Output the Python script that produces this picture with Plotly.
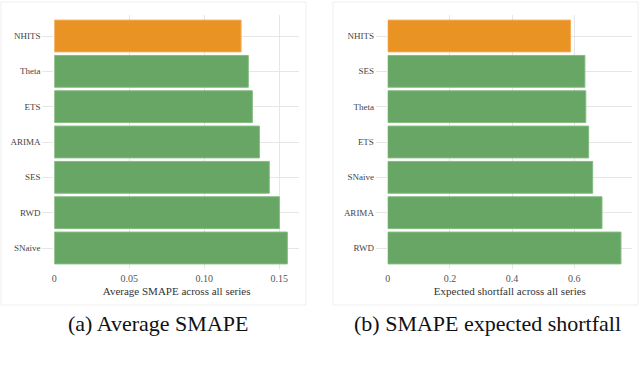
import plotly.graph_objects as go

left_models = ["NHITS", "Theta", "ETS", "ARIMA", "SES", "RWD", "SNaive"]
left_values = [0.1245, 0.1293, 0.1320, 0.1367, 0.1433, 0.1500, 0.1553]
left_ticks = [0, 0.05, 0.10, 0.15]
left_ticktext = ["0", "0.05", "0.10", "0.15"]

right_models = ["NHITS", "SES", "Theta", "ETS", "SNaive", "ARIMA", "RWD"]
right_values = [0.588, 0.634, 0.637, 0.646, 0.659, 0.689, 0.750]
right_ticks = [0, 0.2, 0.4, 0.6]
right_ticktext = ["0", "0.2", "0.4", "0.6"]

ORANGE = "#EA9325"
GREEN = "#67A664"
ORANGE_EDGE = "#F2AE5A"
GREEN_EDGE = "#82BB7F"
GRID = "#E6E6E6"
FONT = "Liberation Serif"

def colors(models):
    return [ORANGE if m == "NHITS" else GREEN for m in models]

def edges(models):
    return [ORANGE_EDGE if m == "NHITS" else GREEN_EDGE for m in models]

fig = go.Figure()
fig.add_trace(go.Bar(x=left_values, y=left_models, orientation="h", width=0.9,
                     marker=dict(color=colors(left_models), line=dict(color=edges(left_models), width=1)),
                     xaxis="x", yaxis="y", showlegend=False))
fig.add_trace(go.Bar(x=right_values, y=right_models, orientation="h", width=0.9,
                     marker=dict(color=colors(right_models), line=dict(color=edges(right_models), width=1)),
                     xaxis="x2", yaxis="y2", showlegend=False))

W, H = 640, 365
ydom = [1 - 269.2 / H, 1 - 14.8 / H]

common_x = dict(showgrid=True, gridcolor=GRID, gridwidth=1, zeroline=False, showline=False,
                ticks="", ticklabelstandoff=2, tickfont=dict(family=FONT, size=10, color="#555555"),
                title_font=dict(family=FONT, size=11, color="#333333"), title_standoff=4,
                automargin=False)
common_y = dict(showgrid=True, gridcolor=GRID, gridwidth=1, zeroline=False, showline=False,
                ticks="outside", ticklen=11, tickcolor=GRID, tickwidth=1, automargin=False,
                tickfont=dict(family=FONT, size=9, color="#444444"), range=[6.6, -0.6])

fig.update_layout(
    width=W, height=H, margin=dict(l=0, r=0, t=0, b=0),
    paper_bgcolor="white", plot_bgcolor="white", bargap=0.1,
    xaxis=dict(domain=[54.3 / W, 299 / W], range=[0, 0.1631], tickvals=left_ticks,
               ticktext=left_ticktext, title_text="Average SMAPE across all series",
               anchor="y", **common_x),
    yaxis=dict(domain=ydom, anchor="x", categoryorder="array", categoryarray=left_models, **common_y),
    xaxis2=dict(domain=[387.7 / W, 632 / W], range=[0, 0.7855], tickvals=right_ticks,
                ticktext=right_ticktext, title_text="Expected shortfall across all series",
                anchor="y2", **common_x),
    yaxis2=dict(domain=ydom, anchor="x2", categoryorder="array", categoryarray=right_models, **common_y),
)

# panel frames
for x0, x1 in [(1, 306), (333, 638)]:
    fig.add_shape(type="rect", xref="paper", yref="paper",
                  x0=x0 / W, x1=x1 / W, y0=1 - 305 / H, y1=1 - 2 / H,
                  line=dict(color="#EFEFEF", width=1), fillcolor="rgba(0,0,0,0)", layer="below")

# captions
fig.add_annotation(text="(a) Average SMAPE", x=158 / W, y=1 - 323 / H, xref="paper", yref="paper",
                   showarrow=False, xanchor="center", yanchor="middle",
                   font=dict(family=FONT, size=22, color="#111111"))
fig.add_annotation(text="(b) SMAPE expected shortfall", x=487 / W, y=1 - 323 / H, xref="paper", yref="paper",
                   showarrow=False, xanchor="center", yanchor="middle",
                   font=dict(family=FONT, size=22, color="#111111"))

fig.write_html("out.html", config={"displayModeBar": False},
               post_script="document.body.style.margin='0';document.body.style.overflow='hidden';")
